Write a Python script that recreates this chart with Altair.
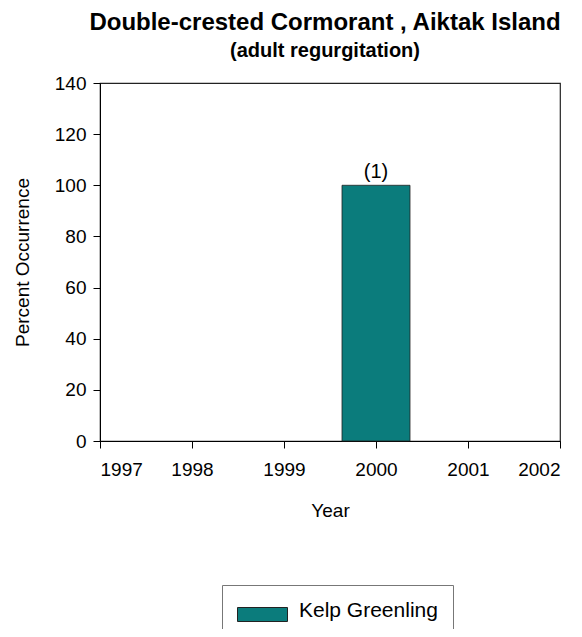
import altair as alt
import pandas as pd

years = [2000]
values = [100]
labels = ["(1)"]
species = ["Kelp Greenling"]

df = pd.DataFrame({"Year": years, "Pct": values, "Label": labels, "Species": species})

FONT = "Liberation Sans"
TEAL = "#0B7C7C"

base = alt.Chart(df)

bars = base.mark_bar(size=68, stroke="#222222", strokeWidth=0.8).encode(
    x=alt.X("Year:Q", scale=alt.Scale(domain=[1997, 2002], nice=False, zero=False, padding=0),
            axis=alt.Axis(title="Year", values=[1997, 1998, 1999, 2000, 2001, 2002],
                          format="d", grid=False, tickSize=7, labelFontSize=19,
                          titleFontSize=19, titleFontWeight="normal", titlePadding=22,
                          labelPadding=12, domainColor="black", tickColor="black",
                          labelColor="black", titleColor="black")),
    y=alt.Y("Pct:Q", scale=alt.Scale(domain=[0, 140], nice=False),
            axis=alt.Axis(title="Percent Occurrence", values=[0, 20, 40, 60, 80, 100, 120, 140],
                          grid=False, tickSize=7, labelFontSize=19, titleFontSize=19,
                          titleFontWeight="normal", titlePadding=22, labelPadding=7,
                          domainColor="black", tickColor="black", labelColor="black",
                          titleColor="black")),
    color=alt.Color("Species:N", scale=alt.Scale(range=[TEAL]),
                    legend=alt.Legend(title=None, orient="none", legendX=122, legendY=502,
                                      direction="vertical",
                                      symbolType="M-1,-0.3L4,-0.3L4,1.1L-1,1.1Z",
                                      symbolSize=400, symbolStrokeColor="#222222",
                                      symbolStrokeWidth=1, symbolFillColor=TEAL,
                                      symbolOpacity=1,
                                      labelFontSize=21, labelFont=FONT, labelColor="black",
                                      labelOffset=41, strokeColor="#777777",
                                      padding=15, fillColor="white", labelLimit=300)),
)

text = base.mark_text(baseline="bottom", dy=-3, fontSize=20, font=FONT, color="black").encode(
    x="Year:Q", y="Pct:Q", text="Label:N"
)

chart = (bars + text).properties(
    width=460,
    height=358,
    title=alt.TitleParams(
        text="Double-crested Cormorant , Aiktak Island",
        subtitle="(adult regurgitation)",
        fontSize=24, subtitleFontSize=20, fontWeight="bold", subtitleFontWeight="bold",
        font=FONT, subtitleFont=FONT, color="black", subtitleColor="black",
        subtitlePadding=6, offset=13, anchor="middle", dx=-5,
    ),
    autosize=alt.AutoSizeParams(type="none"),
    padding={"left": 92, "top": 75, "right": 14, "bottom": 188},
).configure_view(
    stroke="#222222", strokeWidth=1.2
).configure_axis(
    labelFont=FONT, titleFont=FONT
)

chart.save("out.html", embed_options={"renderer": "svg", "actions": False})
